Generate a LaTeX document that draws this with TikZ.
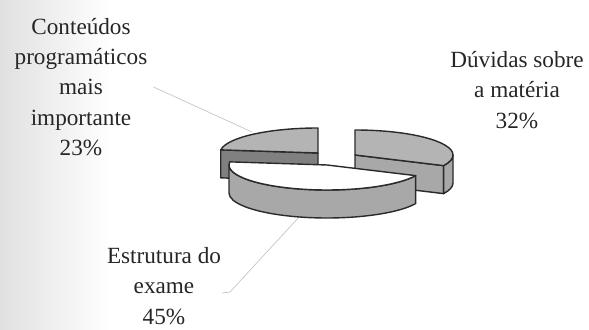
\documentclass[tikz,border=0pt]{standalone}
\usepackage{fontspec}
\setmainfont{Liberation Serif}
\usepackage{tikz}
\usetikzlibrary{calc}
\definecolor{pietop}{HTML}{B4B4B4}
\definecolor{pieside}{HTML}{A8A8A8}
\definecolor{piedark}{HTML}{808080}
\definecolor{pieline}{HTML}{2A2A2A}
\tikzset{
  slice/.style={draw=pieline, line width=0.8pt, line join=round},
  pielabel/.style={align=center, font=\fontsize{13.2}{17.3}\selectfont, text=black!85},
  leader/.style={draw=gray!45, line width=0.4pt}
}

\begin{document}
\begin{tikzpicture}[x=0.02cm, y=0.02cm]
        \useasboundingbox (0,0) rectangle (589,-330);
        %SCAN SHADOW
        \shade[left color=black!12, right color=white] (0,0) rectangle (110,-330);
        %LABELS AND LEADERS
        \node[pielabel] (conteudos) at (81,-87) {Conteúdos\\programáticos\\mais\\importante\\23\%};
        \node[pielabel] (duvidas) at (517,-90) {Dúvidas sobre\\a matéria\\32\%};
        \node[pielabel] (estrutura) at (164,-286) {Estrutura do\\exame\\45\%};
        \coordinate (cl-tip) at (252,-132);
        \coordinate (estr-foot) at (222,-293);
        \coordinate (cb-tip) at (300,-216);
        \draw[leader] (conteudos.east) -- (cl-tip);
        \draw[leader] (estr-foot) -- ++(8,1) -- (cb-tip);
        %SLICE 23%
        \coordinate (cl) at (318,-153);
        \path (cl) ++(90:98 and 25) coordinate (cl-a) (cl) ++(172.8:98 and 25) coordinate (cl-b);
        \filldraw[slice, fill=piedark] (cl-b) -- (cl) -- ++(0,-28) -- ($(cl-b)+(0,-28)$) -- cycle;
        \filldraw[slice, fill=pietop] (cl) -- (cl-a) arc[start angle=90, end angle=172.8, x radius=98, y radius=25] -- cycle;
        %SLICE 32%
        \coordinate (cr) at (355,-155);
        \path (cr) ++(90:98 and 25) coordinate (cr-a) (cr) ++(-25.2:98 and 25) coordinate (cr-b) (cr) ++(0:98 and 25) coordinate (cr-c);
        \filldraw[slice, fill=pieside] (cr) -- (cr-b) -- ++(0,-28) -- ($(cr)+(0,-28)$) -- cycle;
        \filldraw[slice, fill=pieside] (cr-c) arc[start angle=0, end angle=-25.2, x radius=98, y radius=25] -- ++(0,-28) arc[start angle=-25.2, end angle=0, x radius=98, y radius=25] -- cycle;
        \filldraw[slice, fill=pietop] (cr) -- (cr-a) arc[start angle=90, end angle=-25.2, x radius=98, y radius=25] -- cycle;
        %SLICE 45%
        \coordinate (cb) at (327,-165);
        \path (cb) ++(172.8:98 and 25) coordinate (cb-a) (cb) ++(180:98 and 25) coordinate (cb-l);
        \filldraw[slice, fill=pieside] (cb-l) arc[start angle=180, end angle=334.8, x radius=98, y radius=25] -- ++(0,-28) arc[start angle=334.8, end angle=180, x radius=98, y radius=25] -- cycle;
        \filldraw[slice, fill=white] (cb) -- (cb-a) arc[start angle=172.8, end angle=334.8, x radius=98, y radius=25] -- cycle;
    \end{tikzpicture}
\end{document}
